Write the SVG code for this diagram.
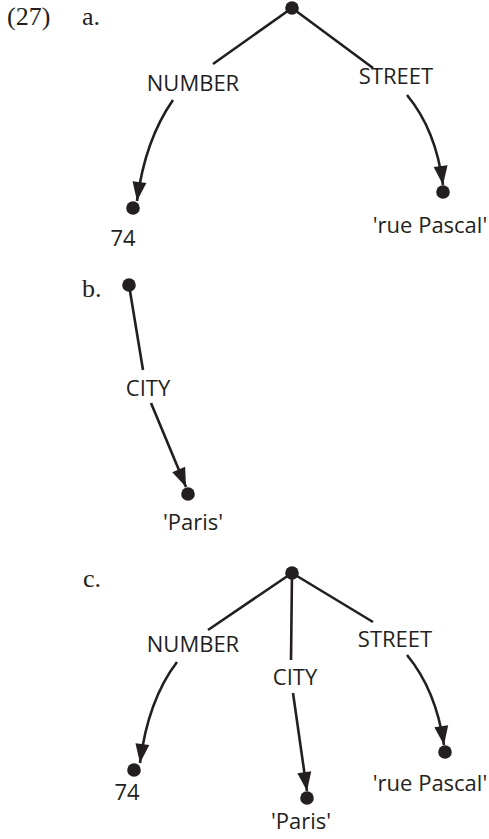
<svg xmlns="http://www.w3.org/2000/svg" width="489" height="839" viewBox="0 0 489 839">
<style>
.lbl{font-family:"Open Sans","Noto Sans",sans-serif;font-size:22px;fill:#231f20;text-anchor:middle}
.num{font-family:"Liberation Serif","DejaVu Serif",serif;font-size:26px;fill:#231f20}
.edge{stroke:#231f20;stroke-width:2.6;fill:none}
.dot{fill:#231f20}
</style>
<defs>
<marker id="ah" markerUnits="userSpaceOnUse" markerWidth="22" markerHeight="16" refX="19" refY="7" orient="auto" overflow="visible">
<path d="M0,0 L19,7 L0,14 z" fill="#231f20"/>
</marker>
</defs>
<rect width="489" height="839" fill="#fff"/>
<text class="num" x="7" y="25">(27)</text>
<text class="num" x="82" y="25">a.</text>
<text class="num" x="82" y="297">b.</text>
<text class="num" x="83" y="587">c.</text>
<g id="connectors">
<path class="edge" d="M292,8 L213,64"/>
<path class="edge" d="M292,8 L373,68"/>
<path class="edge" d="M173,100 Q145,140 137,201" marker-end="url(#ah)"/>
<path class="edge" d="M407,95 Q436,130 443,185" marker-end="url(#ah)"/>
<path class="edge" d="M129,285 L143,370"/>
<path class="edge" d="M151,403 L186,487" marker-end="url(#ah)"/>
<path class="edge" d="M292,573 L208,630"/>
<path class="edge" d="M292,573 L291,660"/>
<path class="edge" d="M292,573 L373,622"/>
<path class="edge" d="M177,662 Q148,700 140,763" marker-end="url(#ah)"/>
<path class="edge" d="M293,693 L307,791" marker-end="url(#ah)"/>
<path class="edge" d="M407,655 Q436,690 444,745" marker-end="url(#ah)"/>
</g>
<g id="a-root"><circle class="dot" cx="292" cy="8" r="6.8"/></g>
<g id="a-number-label"><text class="lbl" x="193" y="91">NUMBER</text></g>
<g id="a-street-label"><text class="lbl" x="396" y="84">STREET</text></g>
<g id="a-74"><circle class="dot" cx="133" cy="208" r="6.8"/><text class="lbl" x="123" y="246">74</text></g>
<g id="a-rue"><circle class="dot" cx="443" cy="192" r="6.8"/><text class="lbl" x="430" y="233">'rue Pascal'</text></g>
<g id="b-root"><circle class="dot" cx="129" cy="285" r="6.8"/></g>
<g id="b-city-label"><text class="lbl" x="148" y="396">CITY</text></g>
<g id="b-paris"><circle class="dot" cx="188" cy="494" r="6.8"/><text class="lbl" x="193" y="530">'Paris'</text></g>
<g id="c-root"><circle class="dot" cx="292" cy="573" r="6.8"/></g>
<g id="c-number-label"><text class="lbl" x="193" y="652">NUMBER</text></g>
<g id="c-city-label"><text class="lbl" x="295" y="685">CITY</text></g>
<g id="c-street-label"><text class="lbl" x="395" y="647">STREET</text></g>
<g id="c-74"><circle class="dot" cx="134" cy="770" r="6.8"/><text class="lbl" x="127" y="800">74</text></g>
<g id="c-paris"><circle class="dot" cx="307" cy="798" r="6.8"/><text class="lbl" x="301" y="829">'Paris'</text></g>
<g id="c-rue"><circle class="dot" cx="445" cy="752" r="6.8"/><text class="lbl" x="430" y="791">'rue Pascal'</text></g>
</svg>
